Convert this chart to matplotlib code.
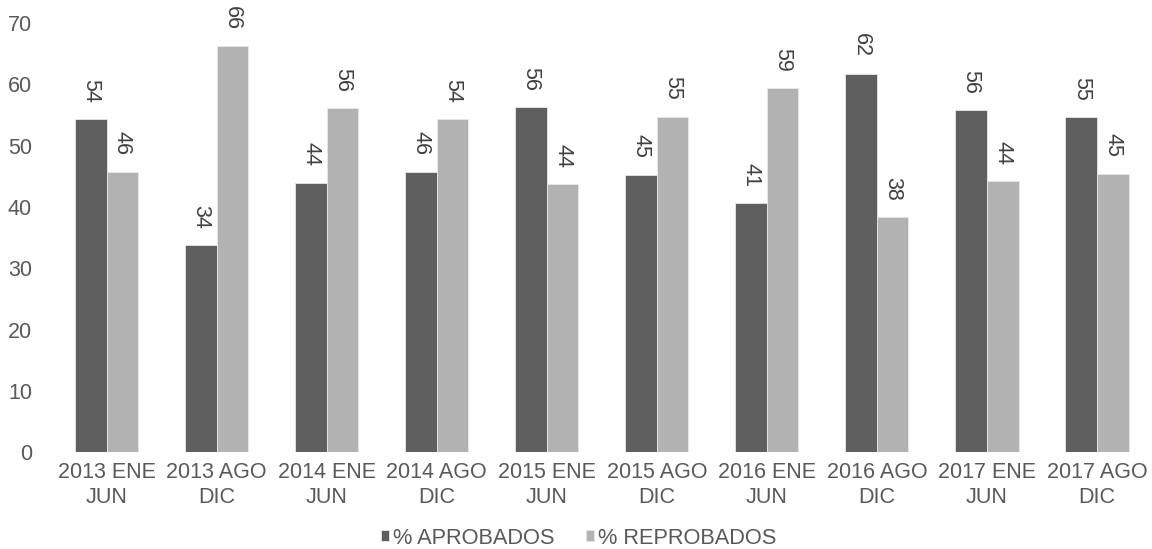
import matplotlib
matplotlib.use("Agg")
import matplotlib.pyplot as plt
import numpy as np

# Periods and pass/fail percentages per period
categories = ["2013 ENE\nJUN", "2013 AGO\nDIC", "2014 ENE\nJUN", "2014 AGO\nDIC",
              "2015 ENE\nJUN", "2015 AGO\nDIC", "2016 ENE\nJUN", "2016 AGO\nDIC",
              "2017 ENE\nJUN", "2017 AGO\nDIC"]
aprobados = [54.3, 33.8, 43.9, 45.7, 56.3, 45.3, 40.6, 61.7, 55.8, 54.6]
reprobados = [45.7, 66.2, 56.1, 54.3, 43.7, 54.7, 59.4, 38.3, 44.2, 45.4]
series_names = ["% APROBADOS", "% REPROBADOS"]
y_ticks = [0, 10, 20, 30, 40, 50, 60, 70]

plt.rcParams["font.family"] = ["Liberation Sans", "DejaVu Sans"]

fig = plt.figure(figsize=(11.52, 5.49), dpi=100)
ax = fig.add_axes([0.0447, 0.1761, 0.9553, 0.7819])

x = np.arange(len(categories))
w = 0.287
dark, light = "#5f5f5f", "#b2b2b2"
b1 = ax.bar(x - w / 2, aprobados, w, color=dark, edgecolor="#e8e8e8",
            linewidth=0.6, label=series_names[0])
b2 = ax.bar(x + w / 2, reprobados, w, color=light, edgecolor="#e8e8e8",
            linewidth=0.6, label=series_names[1])

for bars, vals in ((b1, aprobados), (b2, reprobados)):
    for rect, v in zip(bars, vals):
        ax.annotate(f"{v:.0f}", (rect.get_x() + rect.get_width() / 2, v),
                    xytext=(0, 12), textcoords="offset points",
                    rotation=-90, ha="center", va="bottom",
                    fontsize=15.5, color="#404040")

ax.set_xlim(-0.5, len(categories) - 0.5)
ax.set_ylim(0, 70)
ax.set_yticks(y_ticks)
ax.set_xticks(x)
ax.set_xticklabels(categories, linespacing=1.25)
ax.tick_params(axis="both", length=0, labelsize=15.5, colors="#595959")
ax.tick_params(axis="y", pad=14)
ax.tick_params(axis="x", pad=7)
for s in ax.spines.values():
    s.set_visible(False)

fig.legend(handles=[b1, b2], labels=series_names, loc="center",
           bbox_to_anchor=(0.502, 0.02), ncol=2, frameon=False,
           fontsize=15.7, labelcolor="#595959", handlelength=0.4,
           handleheight=0.4, handletextpad=0.15, columnspacing=1.45,
           borderpad=0.0)

fig.savefig("out.png", dpi=100)
